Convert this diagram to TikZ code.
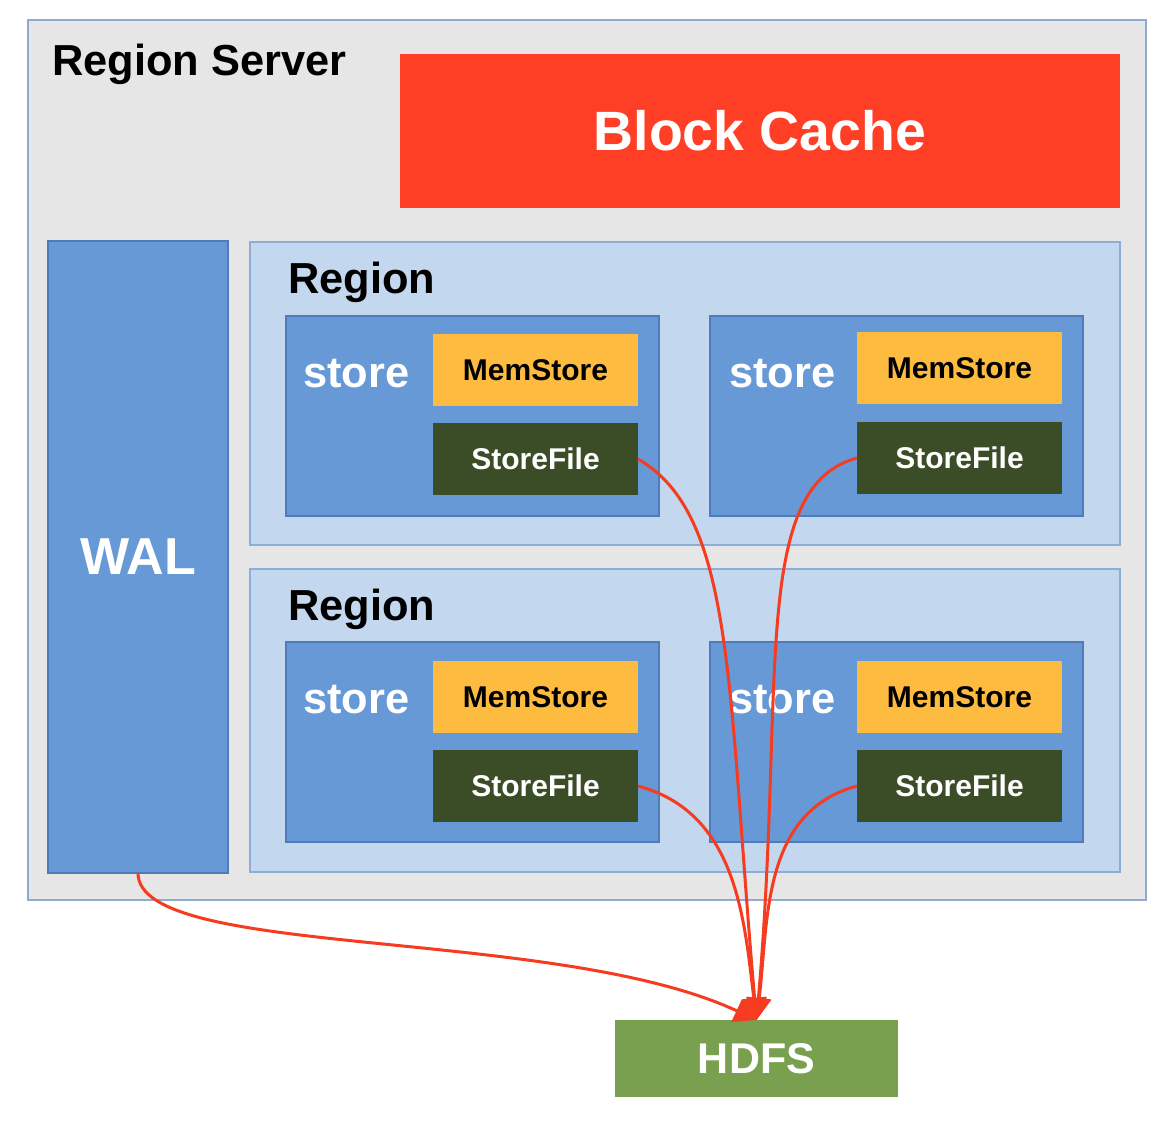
\documentclass[tikz,border=0pt]{standalone}
\usepackage{fontspec}
\setmainfont{Liberation Sans}
\usetikzlibrary{arrows.meta,positioning}
\definecolor{serverbg}{HTML}{E6E6E6}
\definecolor{serverline}{HTML}{8FAAD0}
\definecolor{cachered}{HTML}{FF3F25}
\definecolor{regionbg}{HTML}{C3D7EE}
\definecolor{regionline}{HTML}{8DADD9}
\definecolor{storeblue}{HTML}{6699D5}
\definecolor{storeline}{HTML}{4F7BB8}
\definecolor{memyellow}{HTML}{FDBB40}
\definecolor{filegreen}{HTML}{3B4D27}
\definecolor{hdfsgreen}{HTML}{78A04E}
\definecolor{linkred}{HTML}{F53B20}

\begin{document}
\begin{tikzpicture}[x=0.5pt,y=0.5pt,>={Triangle[length=11pt,width=12pt]},node distance=12pt,
  box/.style={outer sep=0pt,inner sep=0pt,line width=1pt},
  server/.style={box,draw=serverline,fill=serverbg,minimum width=559pt,minimum height=440pt},
  cache/.style={box,fill=cachered,text=white,minimum width=360pt,minimum height=77pt,font=\bfseries\fontsize{27.7}{30}\selectfont},
  wal/.style={box,draw=storeline,fill=storeblue,text=white,minimum width=90pt,minimum height=316pt,font=\bfseries\fontsize{26}{28}\selectfont},
  region/.style={box,draw=regionline,fill=regionbg,minimum width=435pt,minimum height=151.5pt},
  store/.style={box,draw=storeline,fill=storeblue,minimum width=186.5pt,minimum height=100pt},
  mem/.style={box,fill=memyellow,minimum width=102.5pt,minimum height=36pt,font=\bfseries\fontsize{15}{17}\selectfont},
  file/.style={box,fill=filegreen,text=white,minimum width=102.5pt,minimum height=36pt,font=\bfseries\fontsize{15}{17}\selectfont},
  hdfs/.style={box,fill=hdfsgreen,text=white,minimum width=141.5pt,minimum height=38.5pt,font=\bfseries\fontsize{21.5}{24}\selectfont},
  title/.style={inner sep=0pt,anchor=west,font=\bfseries\fontsize{21.7}{24}\selectfont},
  link/.style={color=linkred,line width=1.5pt}]
\useasboundingbox (0,0) rectangle (1168,-1120);
\node[server,anchor=north west] (rs) at (28,-20) {};
\node[title] (rstitle) at (52,-64) {Region Server};
\node[cache,anchor=north west] (bc) at (400,-54) {Block Cache};
\node[wal,anchor=north west] (wal) at (48,-241) {WAL};
\node[region,anchor=north west] (r1) at (250,-242) {};
\node[region,below=of r1] (r2) {};
\node[title] (r1title) at ([xshift=19pt,yshift=-20pt]r1.north west) {Region};
\node[title] (r2title) at ([xshift=19pt,yshift=-20pt]r2.north west) {Region};
\node[store,anchor=north west] (s1) at ([xshift=18pt,yshift=-37pt]r1.north west) {};
\node[store,right=25.5pt of s1] (s2) {};
\node[store,anchor=north west] (s3) at ([xshift=18pt,yshift=-36.5pt]r2.north west) {};
\node[store,right=25.5pt of s3] (s4) {};
\node[title,text=white] (s1title) at ([xshift=8.5pt,yshift=-29pt]s1.north west) {store};
\node[title,text=white] (s2title) at ([xshift=9.5pt,yshift=-29pt]s2.north west) {store};
\node[title,text=white] (s3title) at ([xshift=8.5pt,yshift=-29pt]s3.north west) {store};
\node[title,text=white] (s4title) at ([xshift=9.5pt,yshift=-29pt]s4.north west) {store};
\node[mem,anchor=north east] (m1) at ([xshift=-10.5pt,yshift=-9pt]s1.north east) {MemStore};
\node[mem,anchor=north east] (m2) at ([xshift=-10.5pt,yshift=-8pt]s2.north east) {MemStore};
\node[mem,anchor=north east] (m3) at ([xshift=-10.5pt,yshift=-9.5pt]s3.north east) {MemStore};
\node[mem,anchor=north east] (m4) at ([xshift=-10.5pt,yshift=-9.5pt]s4.north east) {MemStore};
\node[file,below=8.5pt of m1] (f1) {StoreFile};
\node[file,below=9pt of m2] (f2) {StoreFile};
\node[file,below=8.5pt of m3] (f3) {StoreFile};
\node[file,below=8.5pt of m4] (f4) {StoreFile};
\node[hdfs,anchor=north west] (hdfs) at (615,-1020) {HDFS};
\path[->,link] (f1.east) edge[out=-30,in=95,out looseness=0.5,in looseness=1.5] (hdfs.north)
               (f2.west) edge[out=-165,in=85,out looseness=0.5,in looseness=1.5] (hdfs.north)
               (f3.east) edge[out=-15,in=97] (hdfs.north)
               (f4.west) edge[out=-165,in=83] (hdfs.north)
               (wal.south) edge[out=-90,in=155,out looseness=0.35,in looseness=0.9] (hdfs.north);
\end{tikzpicture}
\end{document}
